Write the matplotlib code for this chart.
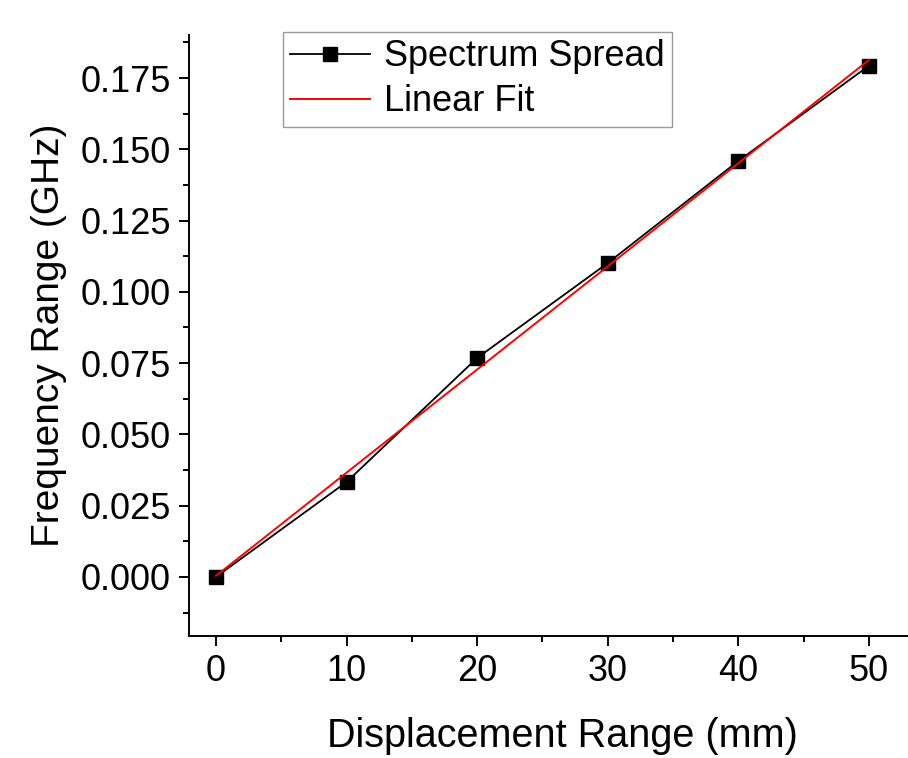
import matplotlib
matplotlib.use("Agg")
import matplotlib.pyplot as plt
from matplotlib.ticker import MultipleLocator

plt.rcParams['font.family'] = ['Liberation Sans', 'DejaVu Sans']

# data
displacement = [0, 10, 20, 30, 40, 50]
freq_range = [0.0, 0.0333, 0.0768, 0.1101, 0.1459, 0.1793]

# linear fit endpoints
fit_x = [0, 50]
fit_y = [0.0004, 0.1813]

fig = plt.figure(figsize=(9.08, 7.58), dpi=100)
ax = fig.add_axes([0.2081, 0.1614, 0.7919, 0.7924])

ax.plot(displacement, freq_range, 'k-', lw=1.3, marker='s', ms=10,
        label='Spectrum Spread', zorder=2)
ax.plot(fit_x, fit_y, '-', color='red', lw=1.4, label='Linear Fit', zorder=3)

ax.set_xlim(-2.07, 53)
ax.set_ylim(-0.0206, 0.1901)

ax.xaxis.set_major_locator(MultipleLocator(10))
ax.xaxis.set_minor_locator(MultipleLocator(5))
ax.yaxis.set_major_locator(MultipleLocator(0.025))
ax.yaxis.set_minor_locator(MultipleLocator(0.0125))
ax.yaxis.set_major_formatter(matplotlib.ticker.FormatStrFormatter('%.3f'))

for side in ['top', 'right']:
    ax.spines[side].set_visible(False)
for side in ['left', 'bottom']:
    ax.spines[side].set_linewidth(1.4)

ax.tick_params(which='major', direction='out', length=7, width=1.4,
               labelsize=26, pad=6)
ax.tick_params(which='minor', direction='out', length=4, width=1.4)

ax.set_xlabel('Displacement Range (mm)', fontsize=28.5)
ax.xaxis.set_label_coords(0.519, -0.1665, transform=ax.transAxes)
ax.xaxis.label.set_verticalalignment('center')
ax.set_ylabel('Frequency Range (GHz)', fontsize=28, labelpad=10)

leg = ax.legend(loc='upper left', bbox_to_anchor=(0.131, 1.005), fontsize=26,
                frameon=True, fancybox=False, edgecolor='gray',
                handlelength=2.2, handletextpad=0.4, borderpad=0.2,
                labelspacing=0.28, borderaxespad=0)
leg.get_frame().set_linewidth(1.0)

fig.savefig('out.png', dpi=100)
